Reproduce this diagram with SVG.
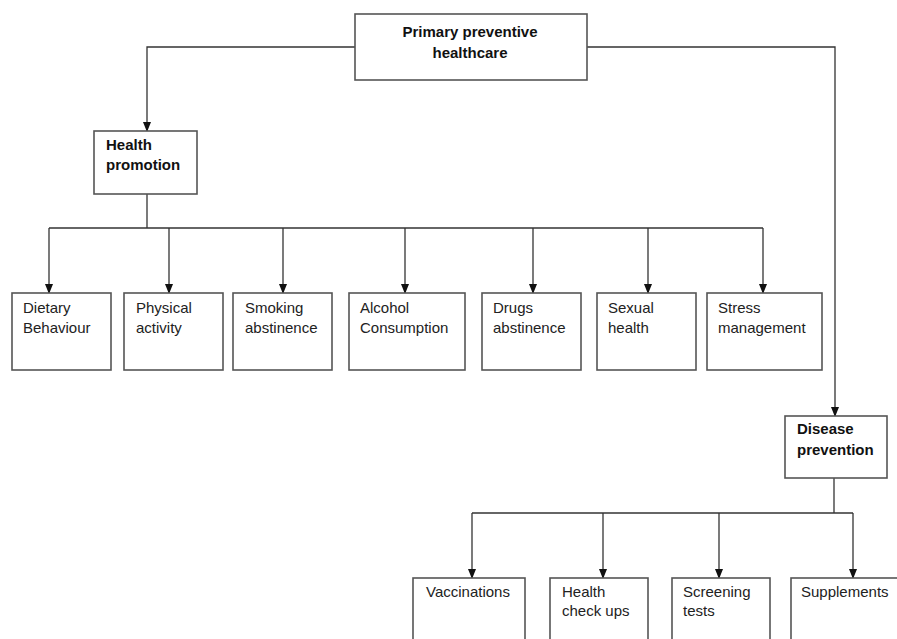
<svg xmlns="http://www.w3.org/2000/svg" width="897" height="639" viewBox="0 0 897 639">
<defs>
<marker id="arr" markerWidth="10" markerHeight="10" refX="9" refY="5" orient="auto" markerUnits="userSpaceOnUse">
<path d="M0,1 L10,5 L0,9 Z" fill="#111"/>
</marker>
<style>
.box{fill:#fff;stroke:#555;stroke-width:1.6}
.c{fill:none;stroke:#333;stroke-width:1.3}
.a{marker-end:url(#arr)}
text{font-family:"Liberation Sans",Arial,sans-serif;font-size:15px;fill:#222}
.b{font-weight:bold;fill:#111}
</style>
</defs>
<rect width="897" height="639" fill="#fff"/>
<g id="connectors">
<polyline class="c a" points="355,47 147,47 147,131"/>
<polyline class="c a" points="587,47 835,47 835,416"/>
<line class="c" x1="147" y1="194" x2="147" y2="228"/>
<line class="c" x1="49" y1="228" x2="763" y2="228"/>
<line class="c a" x1="49" y1="228" x2="49" y2="293"/>
<line class="c a" x1="169" y1="228" x2="169" y2="293"/>
<line class="c a" x1="283" y1="228" x2="283" y2="293"/>
<line class="c a" x1="405" y1="228" x2="405" y2="293"/>
<line class="c a" x1="533" y1="228" x2="533" y2="293"/>
<line class="c a" x1="648" y1="228" x2="648" y2="293"/>
<line class="c a" x1="763" y1="228" x2="763" y2="293"/>
<line class="c" x1="834" y1="478" x2="834" y2="513"/>
<line class="c" x1="472" y1="513" x2="853" y2="513"/>
<line class="c a" x1="472" y1="513" x2="472" y2="578"/>
<line class="c a" x1="603" y1="513" x2="603" y2="578"/>
<line class="c a" x1="719" y1="513" x2="719" y2="578"/>
<line class="c a" x1="853" y1="513" x2="853" y2="578"/>
</g>
<g id="primary"><rect class="box" x="355" y="14" width="232" height="66"/><text class="b" x="470" y="37" text-anchor="middle">Primary preventive</text><text class="b" x="470" y="58" text-anchor="middle">healthcare</text></g>
<g id="health-promotion"><rect class="box" x="94" y="131" width="103" height="63"/><text class="b" x="106" y="150">Health</text><text class="b" x="106" y="170">promotion</text></g>
<g id="dietary"><rect class="box" x="12" y="293" width="99" height="77"/><text x="23" y="313">Dietary</text><text x="23" y="333">Behaviour</text></g>
<g id="physical"><rect class="box" x="124" y="293" width="99" height="77"/><text x="136" y="313">Physical</text><text x="136" y="333">activity</text></g>
<g id="smoking"><rect class="box" x="233" y="293" width="99" height="77"/><text x="245" y="313">Smoking</text><text x="245" y="333">abstinence</text></g>
<g id="alcohol"><rect class="box" x="349" y="293" width="116" height="77"/><text x="360" y="313">Alcohol</text><text x="360" y="333">Consumption</text></g>
<g id="drugs"><rect class="box" x="482" y="293" width="99" height="77"/><text x="493" y="313">Drugs</text><text x="493" y="333">abstinence</text></g>
<g id="sexual"><rect class="box" x="597" y="293" width="99" height="77"/><text x="608" y="313">Sexual</text><text x="608" y="333">health</text></g>
<g id="stress"><rect class="box" x="707" y="293" width="115" height="77"/><text x="718" y="313">Stress</text><text x="718" y="333">management</text></g>
<g id="disease-prevention"><rect class="box" x="785" y="416" width="102" height="62"/><text class="b" x="797" y="434">Disease</text><text class="b" x="797" y="455">prevention</text></g>
<g id="vaccinations"><rect class="box" x="413" y="578" width="112" height="80"/><text x="426" y="597">Vaccinations</text></g>
<g id="checkups"><rect class="box" x="550" y="578" width="98" height="80"/><text x="562" y="597">Health</text><text x="562" y="616">check ups</text></g>
<g id="screening"><rect class="box" x="672" y="578" width="98" height="80"/><text x="683" y="597">Screening</text><text x="683" y="616">tests</text></g>
<g id="supplements"><rect class="box" x="791" y="578" width="120" height="80"/><text x="801" y="597">Supplements</text></g>
</svg>
